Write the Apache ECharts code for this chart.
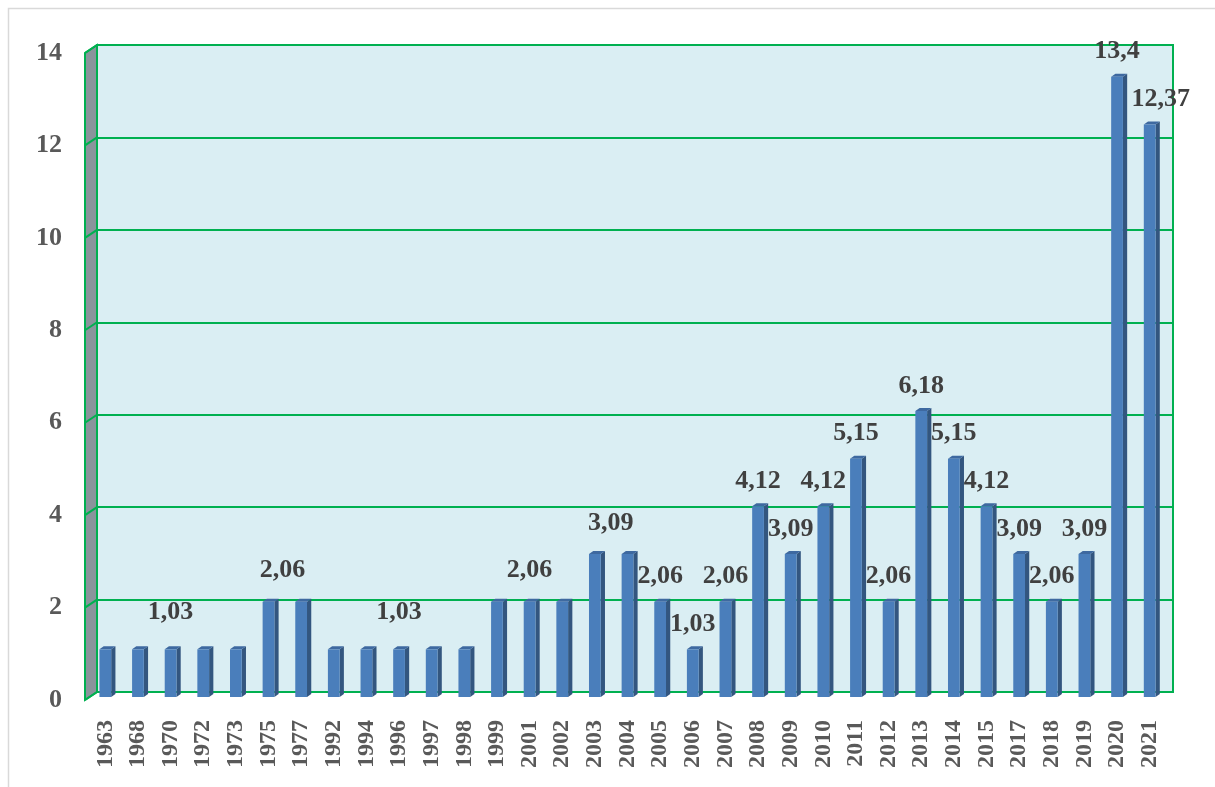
<!DOCTYPE html>
<html>
<head>
<meta charset="utf-8">
<script src="https://cdn.jsdelivr.net/npm/echarts@6/dist/echarts.min.js"></script>
<style>html,body{margin:0;padding:0;background:#fff;}#c{width:1215px;height:787px;}</style>
</head>
<body>
<div id="c"></div>
<script>
const categories = ['1963','1968','1970','1972','1973','1975','1977','1992','1994','1996','1997','1998','1999','2001','2002','2003','2004','2005','2006','2007','2008','2009','2010','2011','2012','2013','2014','2015','2017','2018','2019','2020','2021'];
const values = [1.03,1.03,1.03,1.03,1.03,2.06,2.06,1.03,1.03,1.03,1.03,1.03,2.06,2.06,2.06,3.09,3.09,2.06,1.03,2.06,4.12,3.09,4.12,5.15,2.06,6.18,5.15,4.12,3.09,2.06,3.09,13.4,12.37];
const labeledYears = ['1970','1975','1996','2001','2003','2005','2006','2007','2008','2009','2010','2011','2012','2013','2014','2015','2017','2018','2019','2020','2021'];
const yTicks = [0,2,4,6,8,10,12,14];

// label nudges (style only)
const labelNudge = {'1970':[0,-12],'1975':[14,-6],'1996':[0,-12],'2001':[0,-6],'2003':[16,-6],'2021':[11,0]};

const FONT = '"Liberation Serif","Times New Roman",serif';
const GREEN = '#00B050';
const DX = -12, DY = 8; // left wall depth

const chart = echarts.init(document.getElementById('c'), null, {renderer:'canvas'});

const barData = categories.map((c,i)=>[i, values[i], labeledYears.indexOf(c) >= 0 ? 1 : 0]);

chart.setOption({
  animation:false,
  backgroundColor:'#ffffff',
  graphic:[{type:'rect', shape:{x:8.5,y:8.5,width:1230,height:800}, style:{fill:'none',stroke:'#D9D9D9',lineWidth:1.5}, z:-10}],
  grid:[
    {left:97, right:42, top:45, bottom:95, show:true, backgroundColor:'#DAEEF3', borderColor:GREEN, borderWidth:2},
    {left:85, right:54, top:53, bottom:87, show:false},
    {left:89, right:49, top:49, bottom:90, show:false}
  ],
  xAxis:[
    {gridIndex:0, type:'value', min:0, max:1, show:false},
    {gridIndex:1, type:'value', min:0, max:1, show:false},
    {gridIndex:2, type:'category', data:categories, boundaryGap:true,
      axisLine:{show:false}, axisTick:{show:false},
      axisLabel:{interval:0, rotate:90, margin:23, fontFamily:FONT, fontWeight:'bold', fontSize:24, color:'#595959'}}
  ],
  yAxis:[
    {gridIndex:0, type:'value', min:0, max:14, interval:2, axisLine:{show:false}, axisTick:{show:false}, axisLabel:{show:false},
      splitLine:{show:true, lineStyle:{color:GREEN, width:2}}},
    {gridIndex:1, type:'value', min:0, max:14, interval:2, axisLine:{show:false}, axisTick:{show:false}, splitLine:{show:false},
      axisLabel:{margin:23, fontFamily:FONT, fontWeight:'bold', fontSize:26, color:'#595959'}},
    {gridIndex:2, type:'value', min:0, max:14, interval:2, show:false}
  ],
  series:[
    { // left wall
      type:'custom', xAxisIndex:0, yAxisIndex:0, data:[[0]], silent:true, z:1,
      renderItem:function(params, api){
        const t = api.coord([0, yTicks[yTicks.length-1]]);
        const b = api.coord([0, yTicks[0]]);
        const children = [{
          type:'polygon',
          shape:{points:[[t[0],t[1]],[t[0]+DX,t[1]+DY],[b[0]+DX,b[1]+DY],[b[0],b[1]]]},
          style:{fill:'#8A949C', stroke:GREEN, lineWidth:2}
        }];
        yTicks.forEach(v=>{
          const p = api.coord([0, v]);
          children.push({type:'line', shape:{x1:p[0],y1:p[1],x2:p[0]+DX,y2:p[1]+DY}, style:{stroke:GREEN, lineWidth:2}});
        });
        return {type:'group', children:children};
      }
    },
    { // 3D bars
      type:'custom', xAxisIndex:2, yAxisIndex:2, data:barData, z:5,
      renderItem:function(params, api){
        const idx = api.value(0), v = api.value(1), lab = api.value(2);
        const top = api.coord([idx, v]);
        const bot = api.coord([idx, 0]);
        const band = api.size([1,0])[0];
        const w = band*0.36, dx = band*0.13, dy = 3;
        const xl = top[0]-w/2, xr = top[0]+w/2;
        const children = [
          {type:'polygon', shape:{points:[[xr,top[1]],[xr+dx,top[1]-dy],[xr+dx,bot[1]-dy],[xr,bot[1]]]}, style:{fill:'#33567F'}},
          {type:'polygon', shape:{points:[[xl,top[1]],[xl+dx,top[1]-dy],[xr+dx,top[1]-dy],[xr,top[1]]]}, style:{fill:'#3E69A0'}},
          {type:'rect', shape:{x:xl, y:top[1], width:w, height:bot[1]-top[1]}, style:{fill:'#4A7EBB'}}
        ];
        if (lab) {
          const cat = categories[idx];
          const n = labelNudge[cat] || [0,0];
          children.push({type:'text', z2:10, style:{
            text:String(v).replace('.', ','), x:top[0]+n[0], y:top[1]-25+n[1],
            align:'center', verticalAlign:'middle',
            font:'bold 26px ' + FONT, fill:'#404040'}});
        }
        return {type:'group', children:children};
      }
    }
  ]
});
</script>
</body>
</html>
